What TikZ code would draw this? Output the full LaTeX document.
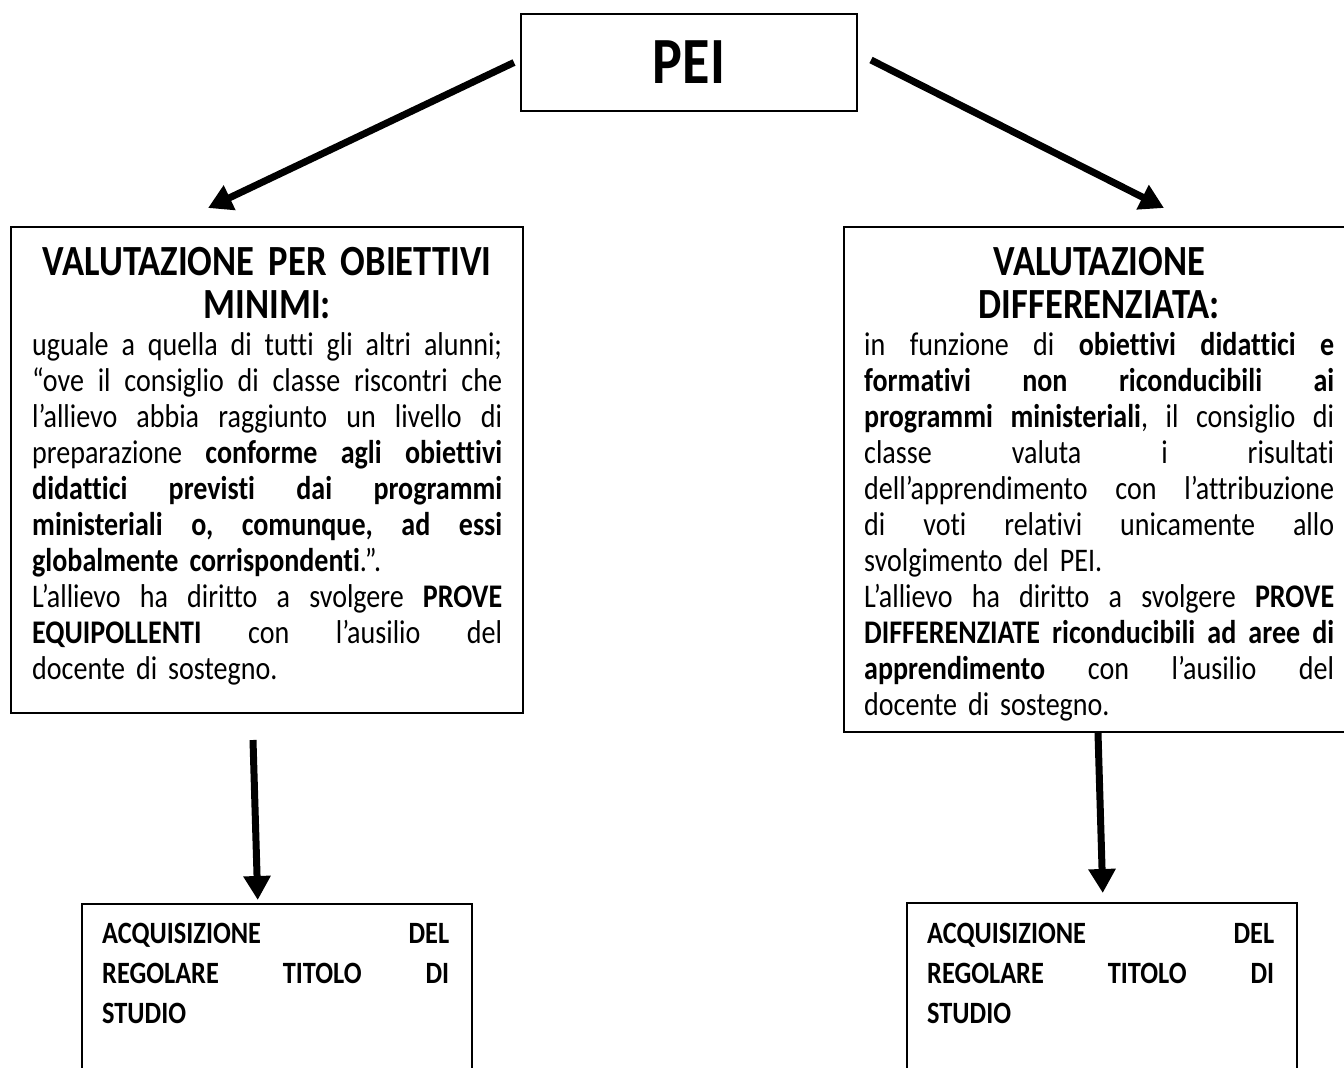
\documentclass[tikz,border=0pt]{standalone}
\usepackage{fontspec}
\setmainfont{Carlito}[FakeStretch=0.85,RawFeature={-liga;-clig}]
\usetikzlibrary{arrows.meta}
\newcommand{\jl}[2][470pt]{\makebox[#1][s]{\frenchspacing\spaceskip=0.23em plus 1fil\strut #2}}
\newcommand{\pl}[1]{\strut #1}
\begin{document}
\begin{tikzpicture}[x=1pt,y=-1pt,
  frame/.style={draw=black, line width=2pt, inner sep=0pt},
  thinframe/.style={draw=black, line width=1.5pt, inner sep=0pt},
  bigarrow/.style={line width=7pt, -{Triangle[length=24pt,width=26pt]}},
  titletext/.style={anchor=north west, inner sep=0pt, text width=470pt, align=center, font=\fontsize{43}{43}\selectfont\bfseries},
  bodytext/.style={anchor=north west, inner sep=0pt, text width=470pt, align=left, font=\fontsize{33}{36}\selectfont},
  acqtext/.style={anchor=north west, inner sep=0pt, text width=347pt, align=left, font=\fontsize{31}{40}\selectfont\bfseries}]
\useasboundingbox (0,0) rectangle (1344,1068);
\fill[white] (0,0) rectangle (1344,1068);
\clip (0,0) rectangle (1344,1068);

% boxes
\node[frame, minimum width=336pt, minimum height=97pt, font=\fontsize{66}{66}\selectfont\bfseries] (pei) at (689,62.5) {PEI};
\node[frame, minimum width=512pt, minimum height=486pt, anchor=north west] (vmin) at (10,226) {};
\node[frame, minimum width=513pt, minimum height=505pt, anchor=north west] (vdiff) at (843,226) {};
\node[thinframe, minimum width=390pt, minimum height=200pt, anchor=north west] (acq1) at (81,903) {};
\node[thinframe, minimum width=390pt, minimum height=200pt, anchor=north west] (acq2) at (906,902) {};

% titles
\node[titletext] (tmin) at (32,244.9) {\strut VALUTAZIONE PER OBIETTIVI\\\strut MINIMI:};
\node[titletext] (tdiff) at (864,244.9) {\strut VALUTAZIONE\\\strut DIFFERENZIATA:};

% body texts
\node[bodytext] (bmin) at (32,329.8) {\noindent\jl{uguale a quella di tutti gli altri alunni;}\\
\jl{“ove il consiglio di classe riscontri che}\\
\jl{l’allievo abbia raggiunto un livello di}\\
\jl{preparazione \textbf{conforme agli obiettivi}}\\
\jl{\textbf{didattici previsti dai programmi}}\\
\jl{\textbf{ministeriali o, comunque, ad essi}}\\
\pl{\textbf{globalmente corrispondenti}.”.}\\
\jl{L’allievo ha diritto a svolgere \textbf{PROVE}}\\
\jl{\textbf{EQUIPOLLENTI} con l’ausilio del}\\
\pl{docente di sostegno.}};

\node[bodytext] (bdiff) at (864,329.8) {\noindent\jl{in funzione di \textbf{obiettivi didattici e}}\\
\jl{\textbf{formativi non riconducibili ai}}\\
\jl{\textbf{programmi ministeriali}, il consiglio di}\\
\jl{classe valuta i risultati}\\
\jl{dell’apprendimento con l’attribuzione}\\
\jl{di voti relativi unicamente allo}\\
\pl{svolgimento del PEI.}\\
\jl{L’allievo ha diritto a svolgere \textbf{PROVE}}\\
\jl{\textbf{DIFFERENZIATE riconducibili ad aree di}}\\
\jl{\textbf{apprendimento} con l’ausilio del}\\
\pl{docente di sostegno.}};

% bottom texts
\node[acqtext] (tacq1) at (102,915) {\noindent\jl[347pt]{ACQUISIZIONE DEL}\\\jl[347pt]{REGOLARE TITOLO DI}\\\pl{STUDIO}};
\node[acqtext] (tacq2) at (927,915) {\noindent\jl[347pt]{ACQUISIZIONE DEL}\\\jl[347pt]{REGOLARE TITOLO DI}\\\pl{STUDIO}};

% arrows
\draw[bigarrow] ([xshift=-6pt]pei.west) -- ([xshift=-59pt,yshift=18pt]vmin.north);
\draw[bigarrow] ([xshift=13pt,yshift=2.5pt]pei.east) -- ([xshift=63.5pt,yshift=18pt]vdiff.north);
\draw[bigarrow] ([xshift=-14pt,yshift=-26pt]vmin.south) -- ([xshift=-19pt,yshift=3pt]acq1.north);
\draw[bigarrow] ([xshift=-2.5pt]vdiff.south) -- ([xshift=1pt,yshift=9pt]acq2.north);
\end{tikzpicture}
\end{document}
